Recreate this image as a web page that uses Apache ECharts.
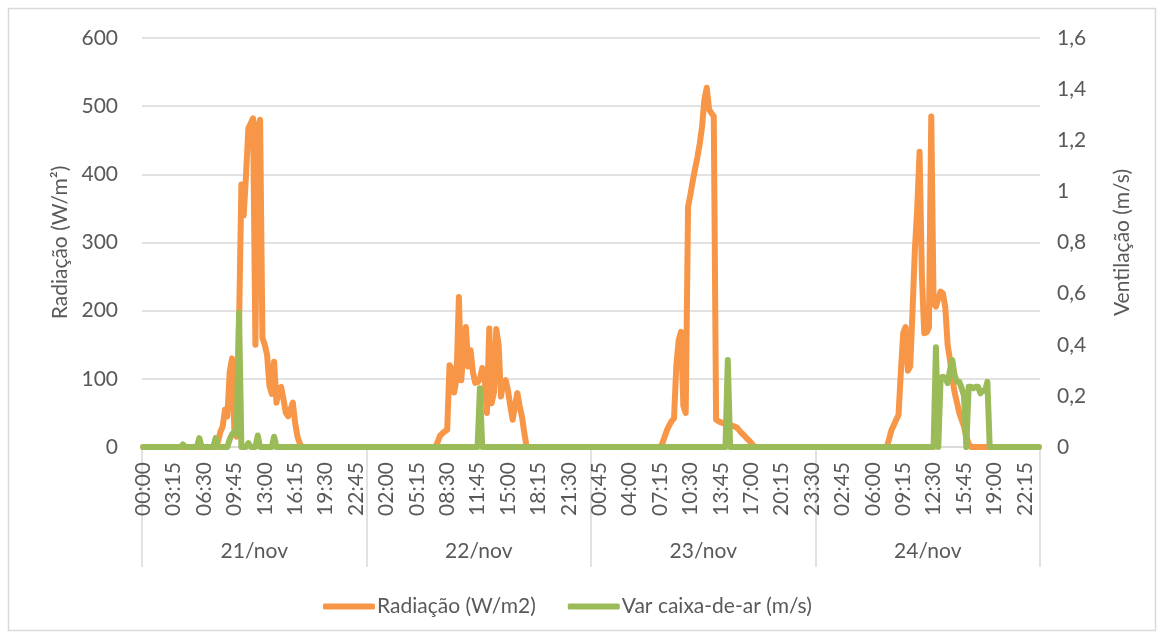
<!DOCTYPE html>
<html>
<head>
<meta charset="utf-8">
<script src="https://cdn.jsdelivr.net/npm/echarts@6/dist/echarts.min.js"></script>
<style>
  html, body { margin: 0; padding: 0; background: #ffffff; }
  #chart { width: 1163px; height: 637px; }
</style>
</head>
<body>
<div id="chart"></div>
<script>
// Day groups shown on the second axis level
const days = ['21/nov', '22/nov', '23/nov', '24/nov'];

// Solar radiation (W/m2), one reading every 15 minutes, 96 per day
const radiation21 = [
  0, 0, 0, 0, 0, 0, 0, 0, 0, 0, 0, 0,
  0, 0, 0, 0, 0, 0, 0, 0, 0, 0, 0, 0,
  0, 0, 0, 0, 0, 0, 0, 0, 8, 22, 30, 55,
  45, 110, 130, 25, 15, 180, 385, 340, 400, 468, 475, 482,
  150, 470, 480, 160, 150, 135, 90, 78, 125, 65, 85, 88,
  70, 50, 45, 55, 65, 35, 15, 5, 0, 0, 0, 0,
  0, 0, 0, 0, 0, 0, 0, 0, 0, 0, 0, 0,
  0, 0, 0, 0, 0, 0, 0, 0, 0, 0, 0, 0
];
const radiation22 = [
  0, 0, 0, 0, 0, 0, 0, 0, 0, 0, 0, 0,
  0, 0, 0, 0, 0, 0, 0, 0, 0, 0, 0, 0,
  0, 0, 0, 0, 0, 0, 8, 17, 20, 23, 25, 120,
  115, 80, 100, 220, 98, 140, 176, 118, 142, 110, 94, 95,
  100, 116, 100, 50, 174, 64, 80, 173, 150, 74, 95, 98,
  83, 60, 40, 60, 79, 60, 44, 20, 0, 0, 0, 0,
  0, 0, 0, 0, 0, 0, 0, 0, 0, 0, 0, 0,
  0, 0, 0, 0, 0, 0, 0, 0, 0, 0, 0, 0
];
const radiation23 = [
  0, 0, 0, 0, 0, 0, 0, 0, 0, 0, 0, 0,
  0, 0, 0, 0, 0, 0, 0, 0, 0, 0, 0, 0,
  0, 0, 0, 0, 0, 0, 5, 15, 25, 32, 38, 42,
  120, 157, 169, 60, 50, 352, 370, 390, 408, 425, 445, 470,
  510, 527, 495, 490, 485, 40, 38, 36, 35, 34, 33, 32,
  31, 30, 28, 24, 20, 17, 13, 10, 6, 2, 0, 0,
  0, 0, 0, 0, 0, 0, 0, 0, 0, 0, 0, 0,
  0, 0, 0, 0, 0, 0, 0, 0, 0, 0, 0, 0
];
const radiation24 = [
  0, 0, 0, 0, 0, 0, 0, 0, 0, 0, 0, 0,
  0, 0, 0, 0, 0, 0, 0, 0, 0, 0, 0, 0,
  0, 0, 0, 0, 0, 0, 0, 12, 25, 32, 40, 47,
  110, 167, 176, 112, 118, 200, 290, 350, 433, 250, 167, 168,
  175, 485, 210, 206, 218, 228, 225, 205, 150, 128, 100, 80,
  65, 50, 40, 30, 15, 5, 0, 0, 0, 0, 0, 0,
  0, 0, 0, 0, 0, 0, 0, 0, 0, 0, 0, 0,
  0, 0, 0, 0, 0, 0, 0, 0, 0, 0, 0, 0
];

// Air-gap ventilation speed (m/s), same 15-minute steps
const airflow21 = [
  0, 0, 0, 0, 0, 0, 0, 0, 0, 0, 0, 0,
  0, 0, 0, 0, 0, 0.01, 0, 0, 0, 0, 0, 0,
  0.035, 0, 0, 0, 0, 0, 0, 0.035, 0, 0, 0, 0,
  0, 0.03, 0.05, 0.06, 0.05, 0.525, 0, 0, 0, 0.015, 0, 0,
  0, 0.045, 0, 0, 0, 0, 0, 0, 0.04, 0, 0, 0,
  0, 0, 0, 0, 0, 0, 0, 0, 0, 0, 0, 0,
  0, 0, 0, 0, 0, 0, 0, 0, 0, 0, 0, 0,
  0, 0, 0, 0, 0, 0, 0, 0, 0, 0, 0, 0
];
const airflow22 = [
  0, 0, 0, 0, 0, 0, 0, 0, 0, 0, 0, 0,
  0, 0, 0, 0, 0, 0, 0, 0, 0, 0, 0, 0,
  0, 0, 0, 0, 0, 0, 0, 0, 0, 0, 0, 0,
  0, 0, 0, 0, 0, 0, 0, 0, 0, 0, 0, 0,
  0.23, 0, 0, 0, 0, 0, 0, 0, 0, 0, 0, 0,
  0, 0, 0, 0, 0, 0, 0, 0, 0, 0, 0, 0,
  0, 0, 0, 0, 0, 0, 0, 0, 0, 0, 0, 0,
  0, 0, 0, 0, 0, 0, 0, 0, 0, 0, 0, 0
];
const airflow23 = [
  0, 0, 0, 0, 0, 0, 0, 0, 0, 0, 0, 0,
  0, 0, 0, 0, 0, 0, 0, 0, 0, 0, 0, 0,
  0, 0, 0, 0, 0, 0, 0, 0, 0, 0, 0, 0,
  0, 0, 0, 0, 0, 0, 0, 0, 0, 0, 0, 0,
  0, 0, 0, 0, 0, 0, 0, 0, 0, 0, 0.34, 0,
  0, 0, 0, 0, 0, 0, 0, 0, 0, 0, 0, 0,
  0, 0, 0, 0, 0, 0, 0, 0, 0, 0, 0, 0,
  0, 0, 0, 0, 0, 0, 0, 0, 0, 0, 0, 0
];
const airflow24 = [
  0, 0, 0, 0, 0, 0, 0, 0, 0, 0, 0, 0,
  0, 0, 0, 0, 0, 0, 0, 0, 0, 0, 0, 0,
  0, 0, 0, 0, 0, 0, 0, 0, 0, 0, 0, 0,
  0, 0, 0, 0, 0, 0, 0, 0, 0, 0, 0, 0,
  0, 0, 0, 0.39, 0, 0.27, 0.275, 0.27, 0.25, 0.30, 0.34, 0.28,
  0.255, 0.255, 0.23, 0.2, 0, 0.236, 0.236, 0.23, 0.236, 0.236, 0.21, 0.22,
  0.22, 0.255, 0, 0, 0, 0, 0, 0, 0, 0, 0, 0,
  0, 0, 0, 0, 0, 0, 0, 0, 0, 0, 0, 0
];

const radiation = [].concat(radiation21, radiation22, radiation23, radiation24);
const airflow = [].concat(airflow21, airflow22, airflow23, airflow24);

// HH:MM stamp for every 15-minute slot of each day
const timeLabels = [];
days.forEach(function () {
  for (let k = 0; k < 96; k++) {
    const h = Math.floor(k / 4);
    const m = (k % 4) * 15;
    timeLabels.push(String(h).padStart(2, '0') + ':' + String(m).padStart(2, '0'));
  }
});

const FONT = 'Lato';
const TEXT = '#595959';
const GRID = '#d9d9d9';

const chart = echarts.init(document.getElementById('chart'), null, { renderer: 'canvas' });

chart.setOption({
  animation: false,
  backgroundColor: '#ffffff',
  textStyle: { fontFamily: FONT, color: TEXT },
  graphic: [{
    type: 'rect',
    shape: { x: 8.5, y: 8.5, width: 1147, height: 622 },
    style: { fill: 'none', stroke: GRID, lineWidth: 1.5 },
    silent: true
  }],
  grid: { left: 142, right: 123, top: 38, bottom: 190 },
  legend: {
    left: 318,
    top: 591,
    itemWidth: 52,
    itemHeight: 6,
    itemGap: 32,
    icon: 'roundRect',
    textStyle: { fontFamily: FONT, fontSize: 21, color: TEXT, padding: [0, 0, 0, -3] },
    data: ['Radiação (W/m2)', 'Var caixa-de-ar (m/s)']
  },
  xAxis: [{
    type: 'category',
    data: timeLabels,
    boundaryGap: true,
    position: 'bottom',
    axisLine: { show: true, lineStyle: { color: GRID, width: 1.5 } },
    axisTick: { show: false },
    splitLine: { show: false },
    axisLabel: {
      interval: 12,
      rotate: 90,
      margin: 15,
      fontFamily: FONT,
      fontSize: 21,
      color: TEXT
    }
  }, {
    type: 'category',
    data: days,
    boundaryGap: true,
    position: 'bottom',
    axisLine: { show: false },
    axisTick: { show: true, length: 120, lineStyle: { color: GRID, width: 1.5 } },
    splitLine: { show: false },
    axisLabel: {
      margin: 94,
      fontFamily: FONT,
      fontSize: 21,
      color: TEXT
    }
  }],
  yAxis: [{
    type: 'value',
    min: 0,
    max: 600,
    interval: 100,
    position: 'left',
    name: 'Radiação (W/m²)',
    nameLocation: 'middle',
    nameRotate: 90,
    nameGap: 70,
    nameTextStyle: { fontFamily: FONT, fontSize: 21, color: TEXT },
    axisLine: { show: false },
    axisTick: { show: false },
    splitLine: { show: true, lineStyle: { color: GRID, width: 1.5 } },
    axisLabel: { margin: 24, fontFamily: FONT, fontSize: 21, color: TEXT }
  }, {
    type: 'value',
    min: 0,
    max: 1.6,
    interval: 0.2,
    position: 'right',
    name: 'Ventilação (m/s)',
    nameLocation: 'middle',
    nameRotate: 90,
    nameGap: 72,
    nameTextStyle: { fontFamily: FONT, fontSize: 21, color: TEXT },
    axisLine: { show: false },
    axisTick: { show: false },
    splitLine: { show: false },
    axisLabel: {
      margin: 17,
      fontFamily: FONT,
      fontSize: 21,
      color: TEXT,
      formatter: function (v) { return String(+v.toFixed(1)).replace('.', ','); }
    }
  }],
  series: [{
    name: 'Radiação (W/m2)',
    type: 'line',
    xAxisIndex: 0,
    yAxisIndex: 0,
    data: radiation,
    color: '#f79646',
    symbol: 'none',
    showSymbol: false,
    lineStyle: { width: 6, color: '#f79646', cap: 'round', join: 'round' },
    z: 2
  }, {
    name: 'Var caixa-de-ar (m/s)',
    type: 'line',
    xAxisIndex: 0,
    yAxisIndex: 1,
    data: airflow,
    color: '#9bbb59',
    symbol: 'none',
    showSymbol: false,
    lineStyle: { width: 6, color: '#9bbb59', cap: 'round', join: 'round' },
    z: 3
  }]
});
</script>
</body>
</html>
